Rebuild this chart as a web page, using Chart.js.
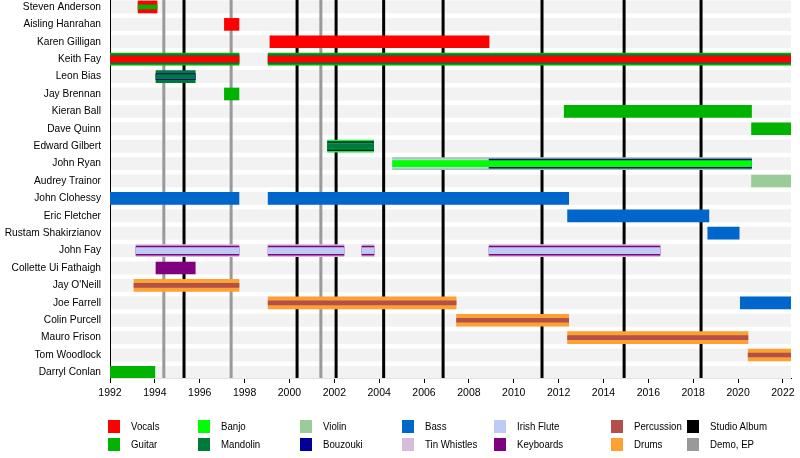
<!DOCTYPE html>
<html>
<head>
<meta charset="utf-8">
<script src="https://cdn.jsdelivr.net/npm/chart.js@4"></script>
<style>
  body { margin: 0; background: #fff; }
  #wrap { position: relative; width: 800px; height: 458px; }
  #legend { position: absolute; left: 0; top: 0; width: 800px; height: 458px; pointer-events: none;
    font-family: "Liberation Sans", Arial, sans-serif; font-size: 11.5px; color: #000; }
  .item { position: absolute; white-space: nowrap; line-height: 13px; }
  .sw { display: inline-block; width: 12px; height: 13px; vertical-align: top; margin-right: 11px; }
  .txt { display: inline-block; transform: scaleX(0.84); transform-origin: left center; }
</style>
</head>
<body>
<div id="wrap">
  <canvas id="timeline" width="800" height="458"></canvas>
  <div id="legend"></div>
</div>
<script>
// rows, top to bottom
const members = ['Steven Anderson', 'Aisling Hanrahan', 'Karen Gilligan', 'Keith Fay', 'Leon Bias',
  'Jay Brennan', 'Kieran Ball', 'Dave Quinn', 'Edward Gilbert', 'John Ryan', 'Audrey Trainor',
  'John Clohessy', 'Eric Fletcher', 'Rustam Shakirzianov', 'John Fay', 'Collette Ui Fathaigh',
  "Jay O'Neill", 'Joe Farrell', 'Colin Purcell', 'Mauro Frison', 'Tom Woodlock', 'Darryl Conlan'];

const tickYears = [1992, 1994, 1996, 1998, 2000, 2002, 2004, 2006, 2008, 2010, 2012, 2014, 2016, 2018, 2020, 2022];
const albumYears = [1995.3, 2000.34, 2002.08, 2004.2, 2006.85, 2011.26, 2014.92, 2018.35];
const demoYears = [1994.4, 1997.4, 2001.4];

// [member, from, to, layer] - layer 0 is the main bar, higher layers are inner stripes
const vocals = [
  ['Steven Anderson', 1993.25, 1994.1, 0],
  ['Aisling Hanrahan', 1997.1, 1997.75, 0],
  ['Karen Gilligan', 1999.13, 2008.9, 0],
  ['Keith Fay', 1992, 1997.75, 2],
  ['Keith Fay', 1999.05, 2022.36, 2]
];
const guitar = [
  ['Steven Anderson', 1993.25, 1994.1, 3],
  ['Keith Fay', 1992, 1997.75, 0],
  ['Keith Fay', 1999.05, 2022.36, 0],
  ['Jay Brennan', 1997.1, 1997.75, 0],
  ['Kieran Ball', 2012.25, 2020.6, 0],
  ['Dave Quinn', 2020.6, 2022.36, 0],
  ['Edward Gilbert', 2001.7, 2003.75, 2],
  ['Darryl Conlan', 1992, 1994.0, 0]
];
const banjo = [
  ['Edward Gilbert', 2001.7, 2003.75, 0],
  ['John Ryan', 2004.6, 2020.6, 2]
];
const mandolin = [
  ['Keith Fay', 1992, 1997.75, 1],
  ['Keith Fay', 1999.05, 2022.36, 1],
  ['Leon Bias', 1994.05, 1995.8, 0],
  ['Leon Bias', 1994.05, 1995.8, 3],
  ['Edward Gilbert', 2001.7, 2003.75, 3]
];
const violin = [
  ['John Ryan', 2004.6, 2020.6, 0],
  ['Audrey Trainor', 2020.6, 2022.36, 0]
];
const bouzouki = [
  ['Leon Bias', 1994.05, 1995.8, 2],
  ['Edward Gilbert', 2001.7, 2003.75, 1],
  ['John Ryan', 2008.9, 2020.6, 1]
];
const bass = [
  ['John Clohessy', 1992, 1997.75, 0],
  ['John Clohessy', 1999.05, 2012.45, 0],
  ['Eric Fletcher', 2012.4, 2018.7, 0],
  ['Rustam Shakirzianov', 2018.65, 2020.05, 0],
  ['Joe Farrell', 2020.1, 2022.36, 0]
];
const whistles = [
  ['John Fay', 1993.16, 1997.75, 0],
  ['John Fay', 1999.05, 2002.43, 0],
  ['John Fay', 2003.23, 2003.77, 0],
  ['John Fay', 2008.9, 2016.52, 0]
];
const irishFlute = [
  ['John Ryan', 2004.6, 2008.9, 1],
  ['John Fay', 1993.16, 1997.75, 2],
  ['John Fay', 1999.05, 2002.43, 2],
  ['John Fay', 2003.23, 2003.77, 2],
  ['John Fay', 2008.9, 2016.52, 2]
];
const keyboards = [
  ['John Fay', 1993.16, 1997.75, 1],
  ['John Fay', 1999.05, 2002.43, 1],
  ['John Fay', 2003.23, 2003.77, 1],
  ['John Fay', 2008.9, 2016.52, 1],
  ['Collette Ui Fathaigh', 1994.05, 1995.8, 0]
];
const percussion = [
  ["Jay O'Neill", 1993.07, 1997.75, 3],
  ['Joe Farrell', 1999.05, 2007.43, 3],
  ['Colin Purcell', 2007.45, 2012.45, 3],
  ['Mauro Frison', 2012.4, 2020.44, 3],
  ['Tom Woodlock', 2020.45, 2022.36, 3]
];
const drums = [
  ["Jay O'Neill", 1993.07, 1997.75, 0],
  ['Joe Farrell', 1999.05, 2007.43, 0],
  ['Colin Purcell', 2007.45, 2012.45, 0],
  ['Mauro Frison', 2012.4, 2020.44, 0],
  ['Tom Woodlock', 2020.45, 2022.36, 0]
];

// styles
const instruments = [
  { name: 'Vocals', rows: vocals, color: '#ff0000' },
  { name: 'Guitar', rows: guitar, color: '#00b300' },
  { name: 'Banjo', rows: banjo, color: '#00ff00' },
  { name: 'Mandolin', rows: mandolin, color: '#007a3a' },
  { name: 'Violin', rows: violin, color: '#99cc99' },
  { name: 'Bouzouki', rows: bouzouki, color: '#000099' },
  { name: 'Bass', rows: bass, color: '#0066cc' },
  { name: 'Tin Whistles', rows: whistles, color: '#d8bcdc' },
  { name: 'Irish Flute', rows: irishFlute, color: '#c0caf6' },
  { name: 'Keyboards', rows: keyboards, color: '#800080' },
  { name: 'Percussion', rows: percussion, color: '#b35048' },
  { name: 'Drums', rows: drums, color: '#ffa033' }
];
const layerThickness = [12, 9, 6, 4];

const datasets = [];
instruments.forEach(inst => {
  [0, 1, 2, 3].forEach(layer => {
    const pts = inst.rows.filter(r => r[3] === layer)
      .map(r => ({ y: members.indexOf(r[0]), x: [r[1], r[2]] }));
    if (!pts.length) return;
    datasets.push({
      label: inst.name,
      data: pts,
      backgroundColor: inst.color,
      borderWidth: 0,
      barThickness: layerThickness[layer],
      grouped: false,
      order: 10 - layer
    });
  });
});

// grey row bands and the release lines, under the bars
const backdrop = {
  id: 'backdrop',
  beforeDatasetsDraw(chart) {
    const { ctx, chartArea: a, scales: { x, y } } = chart;
    ctx.save();
    ctx.fillStyle = '#f2f2f2';
    members.forEach((m, i) => {
      const yc = y.getPixelForValue(i);
      ctx.fillRect(a.left + 1, yc - 6.5, a.right - a.left - 1, 13);
    });
    ctx.lineWidth = 3;
    ctx.strokeStyle = '#999999';
    demoYears.forEach(v => {
      const px = x.getPixelForValue(v);
      ctx.beginPath(); ctx.moveTo(px, a.top); ctx.lineTo(px, a.bottom); ctx.stroke();
    });
    ctx.strokeStyle = '#000000';
    albumYears.forEach(v => {
      const px = x.getPixelForValue(v);
      ctx.beginPath(); ctx.moveTo(px, a.top); ctx.lineTo(px, a.bottom); ctx.stroke();
    });
    ctx.restore();
  }
};

const ctx = document.getElementById('timeline').getContext('2d');
const chart = new Chart(ctx, {
  type: 'bar',
  data: { datasets: datasets },
  options: {
    indexAxis: 'y',
    responsive: false,
    animation: false,
    devicePixelRatio: 1,
    layout: { padding: { top: 0, right: 9, bottom: 50, left: 0 } },
    plugins: { legend: { display: false }, tooltip: { enabled: false } },
    scales: {
      x: {
        type: 'linear',
        offset: false,
        z: 1,
        min: 1992,
        max: 2022.36,
        afterBuildTicks: s => { s.ticks = tickYears.map(v => ({ value: v })); },
        afterFit: s => { s.height = 30; s.paddingLeft = 0; s.paddingRight = 0; },
        grid: { drawOnChartArea: false, drawTicks: true, tickLength: 5, color: '#000', offset: false },
        border: { color: '#000', width: 1 },
        ticks: {
          color: '#000', padding: 4, maxRotation: 0, autoSkip: false,
          font: { family: '"Liberation Sans", Arial', size: 10.5 },
          callback: v => String(v)
        }
      },
      y: {
        type: 'linear',
        offset: false,
        z: 1,
        reverse: true,
        min: -0.4,
        max: 21.32,
        afterBuildTicks: s => { s.ticks = members.map((m, i) => ({ value: i })); },
        afterFit: s => { s.width = 110; s.paddingTop = 0; s.paddingBottom = 0; },
        grid: { display: false, drawTicks: false, offset: false },
        border: { display: true, color: '#000', width: 1 },
        ticks: {
          color: '#000', padding: 9, autoSkip: false,
          font: { family: '"Liberation Sans", Arial', size: 10.2 },
          callback: v => members[v]
        }
      }
    }
  },
  plugins: [backdrop]
});

// legend, column by column
const legendItems = instruments.map(i => [i.name, i.color])
  .concat([['Studio Album', '#000000'], ['Demo, EP', '#999999']]);
const colLeft = [108, 198, 300, 402, 494, 611, 687];
const rowTop = [420, 438];
const legend = document.getElementById('legend');
legendItems.forEach((it, k) => {
  const d = document.createElement('div');
  d.className = 'item';
  d.style.left = colLeft[Math.floor(k / 2)] + 'px';
  d.style.top = rowTop[k % 2] + 'px';
  d.innerHTML = '<span class="sw" style="background:' + it[1] + '"></span><span class="txt">' + it[0] + '</span>';
  legend.appendChild(d);
});
</script>
</body>
</html>
